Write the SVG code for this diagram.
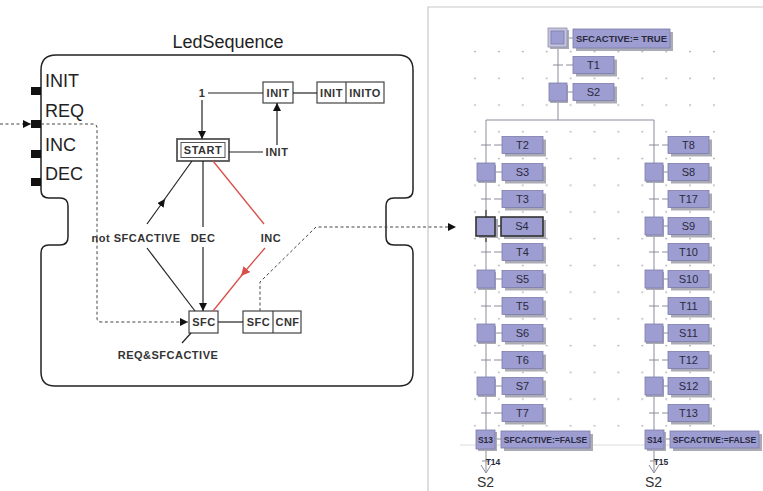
<svg xmlns="http://www.w3.org/2000/svg" width="763" height="491" viewBox="0 0 763 491">
<style>
.lbl{font-family:"Liberation Sans",Arial,sans-serif;font-size:11px;font-weight:bold;fill:#333;letter-spacing:0.5px}
.big{font-family:"Liberation Sans",Arial,sans-serif;font-size:18px;fill:#222}
.ln{stroke:#222;stroke-width:1.2;fill:none}
.red{stroke:#d8504a;stroke-width:1.3;fill:none}
.dash{stroke:#444;stroke-width:1;stroke-dasharray:3 2.5;fill:none}
.box{fill:#fff;stroke:#444;stroke-width:1.2}
.sh{fill:#ababb5}
.sb{fill:#9d9dd1;stroke:#7c7cab;stroke-width:0.8}
.st{font-family:"Liberation Sans",Arial,sans-serif;font-size:11px;fill:#2a2a40;text-anchor:middle}
.act{font-family:"Liberation Sans",Arial,sans-serif;font-weight:bold;fill:#2a2a40;text-anchor:middle}
.gl{stroke:#8c8c9c;stroke-width:1;fill:none}
</style>
<defs>
<pattern id="dots" x="463" y="38.1" width="23.9" height="26.73" patternUnits="userSpaceOnUse"><circle cx="12" cy="13.4" r="0.9" fill="#a8a8a8"/></pattern>
<marker id="ah" viewBox="0 0 10 10" refX="10" refY="5" markerWidth="8" markerHeight="8" markerUnits="userSpaceOnUse" orient="auto"><path d="M0,0 L10,5 L0,10 Z" fill="#111"/></marker>
<marker id="ahr" viewBox="0 0 10 10" refX="10" refY="5" markerWidth="9" markerHeight="9" markerUnits="userSpaceOnUse" orient="auto"><path d="M0,0 L10,5 L0,10 Z" fill="#d8504a"/></marker>
</defs>
<rect width="763" height="491" fill="#fff"/>

<!-- right panel frame and grid -->
<g id="sfc-panel">
<path d="M428,491 L428,7 L763,7" fill="none" stroke="#c8c8c8" stroke-width="1.2"/>
<rect x="468" y="45" width="252" height="388" fill="url(#dots)"/>
<line x1="460" y1="445" x2="714" y2="445" stroke="#dcdcdc" stroke-width="1"/>
</g>

<!-- function block -->
<g id="block">
<text class="big" x="228" y="48" text-anchor="middle">LedSequence</text>
<path d="M41,70 L41,190 Q41,198 49,198 L60,198 Q68,198 68,206 L68,237 Q68,245 60,245 L49,245 Q41,245 41,253 L41,372 Q41,386 55,386 L399,386 Q413,386 413,372 L413,253 Q413,245 405,245 L394,245 Q386,245 386,237 L386,206 Q386,198 394,198 L405,198 Q413,198 413,190 L413,70 Q413,55 398,55 L56,55 Q41,55 41,70 Z" fill="none" stroke="#222" stroke-width="1.5"/>
<rect x="31" y="87" width="10" height="8" fill="#111"/>
<rect x="31" y="120" width="10" height="8" fill="#111"/>
<rect x="31" y="150" width="10" height="8" fill="#111"/>
<rect x="31" y="178" width="10" height="8" fill="#111"/>
<text class="big" x="45" y="87">INIT</text>
<text class="big" x="45" y="117">REQ</text>
<text class="big" x="45" y="151">INC</text>
<text class="big" x="45" y="180">DEC</text>
</g>

<g id="n-one"><text class="lbl" x="202" y="97" text-anchor="middle">1</text></g>
<g id="n-init"><rect class="box" x="263" y="82" width="30" height="21"/><text class="lbl" x="278" y="96.5" text-anchor="middle">INIT</text></g>
<g id="n-initfb"><rect class="box" x="317" y="82" width="67" height="21"/><line x1="346" y1="82" x2="346" y2="103" stroke="#444" stroke-width="1.2"/><text class="lbl" x="331.5" y="96.5" text-anchor="middle">INIT</text><text class="lbl" x="365" y="96.5" text-anchor="middle">INITO</text></g>
<g id="n-start"><rect x="177" y="139" width="52" height="22" fill="#fff" stroke="#555" stroke-width="1.8"/><rect x="181" y="142.5" width="44" height="15" fill="#fff" stroke="#555" stroke-width="1"/><text class="lbl" x="203" y="154" text-anchor="middle">START</text></g>
<g id="n-initlbl"><text class="lbl" x="277" y="156" text-anchor="middle">INIT</text></g>
<g id="n-notsfc"><text class="lbl" x="136" y="242" text-anchor="middle">not SFCACTIVE</text></g>
<g id="n-dec"><text class="lbl" x="203" y="242" text-anchor="middle">DEC</text></g>
<g id="n-inc"><text class="lbl" x="271" y="242" text-anchor="middle">INC</text></g>
<g id="n-sfc"><rect class="box" x="189" y="311" width="29" height="22"/><text class="lbl" x="204" y="326" text-anchor="middle">SFC</text></g>
<g id="n-sfcfb"><rect class="box" x="243" y="311" width="58" height="22"/><line x1="273" y1="311" x2="273" y2="333" stroke="#444" stroke-width="1.2"/><text class="lbl" x="258.5" y="326" text-anchor="middle">SFC</text><text class="lbl" x="287.5" y="326" text-anchor="middle">CNF</text></g>
<g id="n-reqsfc"><text class="lbl" x="168" y="359" text-anchor="middle">REQ&amp;SFCACTIVE</text></g>

<g id="connectors">
<line class="ln" x1="208" y1="93" x2="263" y2="93"/>
<line class="ln" x1="293" y1="93" x2="317" y2="93"/>
<line class="ln" x1="202" y1="100" x2="202" y2="139" marker-end="url(#ah)"/>
<line class="ln" x1="229" y1="152" x2="263" y2="152"/>
<line class="ln" x1="277" y1="145" x2="277" y2="103" marker-end="url(#ah)"/>
<line class="ln" x1="147" y1="224" x2="165" y2="199" marker-end="url(#ah)"/>
<line class="ln" x1="164" y1="200" x2="192" y2="161"/>
<line class="ln" x1="147" y1="248" x2="195" y2="311"/>
<line class="ln" x1="203" y1="161" x2="203" y2="227"/>
<line class="ln" x1="203" y1="247" x2="203" y2="311" marker-end="url(#ah)"/>
<line class="red" x1="213" y1="161" x2="264" y2="224"/>
<line class="red" x1="265" y1="248" x2="241" y2="276" marker-end="url(#ahr)"/>
<line class="red" x1="242" y1="275" x2="213" y2="311"/>
<line class="ln" x1="218" y1="322" x2="243" y2="322"/>
<line class="ln" x1="191" y1="333" x2="182" y2="343"/>
<line class="dash" x1="0" y1="124" x2="31" y2="124" marker-end="url(#ah)"/>
<path class="dash" d="M41,124 L93,124 Q97,124 97,128 L97,318 Q97,322 101,322 L188,322" marker-end="url(#ah)"/>
<path class="dash" d="M260,311 L260,282 L316,227 L456,227" marker-end="url(#ah)"/>
</g>

<!-- SFC chart -->
<g id="sfc-lines">
<line class="gl" x1="558" y1="47" x2="558" y2="120"/>
<line class="gl" x1="486" y1="120" x2="654" y2="120"/>
<line class="gl" x1="486" y1="120" x2="486" y2="473"/>
<line class="gl" x1="654" y1="120" x2="654" y2="473"/>
<line x1="486" y1="210" x2="486" y2="242" stroke="#444" stroke-width="1.3"/>
<polyline class="gl" points="481,465 486,473 491,465"/>
<polyline class="gl" points="649,465 654,473 659,465"/>
<line class="gl" x1="482" y1="461" x2="490" y2="461"/>
<line class="gl" x1="650" y1="461" x2="658" y2="461"/>
<!-- ticks & links top -->
<line class="gl" x1="553" y1="65" x2="563" y2="65"/><line class="gl" x1="566" y1="65" x2="573" y2="65"/>
<line class="gl" x1="567" y1="92" x2="573" y2="92"/>
<line class="gl" x1="567" y1="38" x2="573" y2="38"/>
</g>

<g id="s-init"><rect class="sh" x="550" y="30" width="19" height="19"/><rect x="548" y="28" width="19" height="19" fill="#c4c4dc" stroke="#9090b0" stroke-width="0.8"/><rect class="sb" x="551" y="31" width="13" height="13"/></g>
<g id="a-init"><rect class="sh" x="576" y="32" width="97" height="19"/><rect class="sb" x="573" y="29" width="97" height="19"/><text class="act" x="621.5" y="42" font-size="9.5">SFCACTIVE:= TRUE</text></g>
<g id="t-T1"><rect class="sh" x="576" y="59.5" width="41" height="17"/><rect class="sb" x="573" y="56.5" width="41" height="17"/><text class="st" x="593.5" y="69">T1</text></g>
<g id="s-S2"><rect class="sh" x="550" y="85" width="18" height="18"/><rect class="sb" x="549" y="83" width="18" height="18"/><rect class="sh" x="576" y="86.5" width="41" height="17"/><rect class="sb" x="573" y="83.5" width="41" height="17"/><text class="st" x="593.5" y="96">S2</text></g>

<!-- left branch -->
<g id="t-T2"><line class="gl" x1="481" y1="145" x2="491" y2="145"/><line class="gl" x1="494" y1="145" x2="502" y2="145"/><rect class="sh" x="505" y="139.5" width="41" height="17"/><rect class="sb" x="502" y="136.5" width="41" height="17"/><text class="st" x="522.5" y="149">T2</text></g>
<g id="s-S3"><line class="gl" x1="495" y1="172" x2="502" y2="172"/><rect class="sh" x="478" y="165" width="18" height="18"/><rect class="sb" x="477" y="163" width="18" height="18"/><rect class="sh" x="505" y="166.5" width="41" height="17"/><rect class="sb" x="502" y="163.5" width="41" height="17"/><text class="st" x="522.5" y="176">S3</text></g>
<g id="t-T3"><line class="gl" x1="481" y1="199" x2="491" y2="199"/><line class="gl" x1="494" y1="199" x2="502" y2="199"/><rect class="sh" x="505" y="193.5" width="41" height="17"/><rect class="sb" x="502" y="190.5" width="41" height="17"/><text class="st" x="522.5" y="203">T3</text></g>
<g id="s-S4"><line x1="495" y1="226" x2="501" y2="226" stroke="#444" stroke-width="1.2"/><rect class="sh" x="479" y="219" width="19" height="19"/><rect x="476" y="217" width="19" height="19" fill="#9d9dd1" stroke="#333" stroke-width="1.6"/><rect class="sh" x="504" y="220" width="42" height="19"/><rect x="501" y="217" width="42" height="19" fill="#9d9dd1" stroke="#333" stroke-width="1.6"/><text class="st" x="522" y="230">S4</text></g>
<g id="t-T4"><line class="gl" x1="481" y1="252" x2="491" y2="252"/><line class="gl" x1="494" y1="252" x2="502" y2="252"/><rect class="sh" x="505" y="246.5" width="41" height="17"/><rect class="sb" x="502" y="243.5" width="41" height="17"/><text class="st" x="522.5" y="256">T4</text></g>
<g id="s-S5"><line class="gl" x1="495" y1="279" x2="502" y2="279"/><rect class="sh" x="478" y="272" width="18" height="18"/><rect class="sb" x="477" y="270" width="18" height="18"/><rect class="sh" x="505" y="273.5" width="41" height="17"/><rect class="sb" x="502" y="270.5" width="41" height="17"/><text class="st" x="522.5" y="283">S5</text></g>
<g id="t-T5"><line class="gl" x1="481" y1="306" x2="491" y2="306"/><line class="gl" x1="494" y1="306" x2="502" y2="306"/><rect class="sh" x="505" y="300.5" width="41" height="17"/><rect class="sb" x="502" y="297.5" width="41" height="17"/><text class="st" x="522.5" y="310">T5</text></g>
<g id="s-S6"><line class="gl" x1="495" y1="333" x2="502" y2="333"/><rect class="sh" x="478" y="326" width="18" height="18"/><rect class="sb" x="477" y="324" width="18" height="18"/><rect class="sh" x="505" y="327.5" width="41" height="17"/><rect class="sb" x="502" y="324.5" width="41" height="17"/><text class="st" x="522.5" y="337">S6</text></g>
<g id="t-T6"><line class="gl" x1="481" y1="360" x2="491" y2="360"/><line class="gl" x1="494" y1="360" x2="502" y2="360"/><rect class="sh" x="505" y="354.5" width="41" height="17"/><rect class="sb" x="502" y="351.5" width="41" height="17"/><text class="st" x="522.5" y="364">T6</text></g>
<g id="s-S7"><line class="gl" x1="495" y1="386" x2="502" y2="386"/><rect class="sh" x="478" y="379" width="18" height="18"/><rect class="sb" x="477" y="377" width="18" height="18"/><rect class="sh" x="505" y="380.5" width="41" height="17"/><rect class="sb" x="502" y="377.5" width="41" height="17"/><text class="st" x="522.5" y="390">S7</text></g>
<g id="t-T7"><line class="gl" x1="481" y1="413" x2="491" y2="413"/><line class="gl" x1="494" y1="413" x2="502" y2="413"/><rect class="sh" x="505" y="407.5" width="41" height="17"/><rect class="sb" x="502" y="404.5" width="41" height="17"/><text class="st" x="522.5" y="417">T7</text></g>
<g id="s-S13"><line class="gl" x1="495" y1="439" x2="501" y2="439"/><rect class="sh" x="478" y="432" width="19" height="19"/><rect class="sb" x="476" y="430" width="19" height="19"/><text class="act" x="485.5" y="443" font-size="8.5">S13</text><rect class="sh" x="504" y="434" width="89" height="17"/><rect class="sb" x="501" y="431" width="89" height="17"/><text class="act" x="545.5" y="443" font-size="8.5">SFCACTIVE:=FALSE</text></g>
<g id="t-T14"><text class="act" x="493" y="465" font-size="8.5" text-anchor="start">T14</text></g>
<g id="j-S2a"><text x="477" y="487" font-family="Liberation Sans,Arial,sans-serif" font-size="14" fill="#333">S2</text></g>

<!-- right branch -->
<g id="t-T8"><line class="gl" x1="649" y1="145" x2="659" y2="145"/><line class="gl" x1="662" y1="145" x2="668" y2="145"/><rect class="sh" x="671" y="139.5" width="41" height="17"/><rect class="sb" x="668" y="136.5" width="41" height="17"/><text class="st" x="688.5" y="149">T8</text></g>
<g id="s-S8"><line class="gl" x1="663" y1="172" x2="668" y2="172"/><rect class="sh" x="646" y="165" width="18" height="18"/><rect class="sb" x="645" y="163" width="18" height="18"/><rect class="sh" x="671" y="166.5" width="41" height="17"/><rect class="sb" x="668" y="163.5" width="41" height="17"/><text class="st" x="688.5" y="176">S8</text></g>
<g id="t-T17"><line class="gl" x1="649" y1="199" x2="659" y2="199"/><line class="gl" x1="662" y1="199" x2="668" y2="199"/><rect class="sh" x="671" y="193.5" width="41" height="17"/><rect class="sb" x="668" y="190.5" width="41" height="17"/><text class="st" x="688.5" y="203">T17</text></g>
<g id="s-S9"><line class="gl" x1="663" y1="226" x2="668" y2="226"/><rect class="sh" x="646" y="219" width="18" height="18"/><rect class="sb" x="645" y="217" width="18" height="18"/><rect class="sh" x="671" y="220.5" width="41" height="17"/><rect class="sb" x="668" y="217.5" width="41" height="17"/><text class="st" x="688.5" y="230">S9</text></g>
<g id="t-T10"><line class="gl" x1="649" y1="252" x2="659" y2="252"/><line class="gl" x1="662" y1="252" x2="668" y2="252"/><rect class="sh" x="671" y="246.5" width="41" height="17"/><rect class="sb" x="668" y="243.5" width="41" height="17"/><text class="st" x="688.5" y="256">T10</text></g>
<g id="s-S10"><line class="gl" x1="663" y1="279" x2="668" y2="279"/><rect class="sh" x="646" y="272" width="18" height="18"/><rect class="sb" x="645" y="270" width="18" height="18"/><rect class="sh" x="671" y="273.5" width="41" height="17"/><rect class="sb" x="668" y="270.5" width="41" height="17"/><text class="st" x="688.5" y="283">S10</text></g>
<g id="t-T11"><line class="gl" x1="649" y1="306" x2="659" y2="306"/><line class="gl" x1="662" y1="306" x2="668" y2="306"/><rect class="sh" x="671" y="300.5" width="41" height="17"/><rect class="sb" x="668" y="297.5" width="41" height="17"/><text class="st" x="688.5" y="310">T11</text></g>
<g id="s-S11"><line class="gl" x1="663" y1="333" x2="668" y2="333"/><rect class="sh" x="646" y="326" width="18" height="18"/><rect class="sb" x="645" y="324" width="18" height="18"/><rect class="sh" x="671" y="327.5" width="41" height="17"/><rect class="sb" x="668" y="324.5" width="41" height="17"/><text class="st" x="688.5" y="337">S11</text></g>
<g id="t-T12"><line class="gl" x1="649" y1="360" x2="659" y2="360"/><line class="gl" x1="662" y1="360" x2="668" y2="360"/><rect class="sh" x="671" y="354.5" width="41" height="17"/><rect class="sb" x="668" y="351.5" width="41" height="17"/><text class="st" x="688.5" y="364">T12</text></g>
<g id="s-S12"><line class="gl" x1="663" y1="386" x2="668" y2="386"/><rect class="sh" x="646" y="379" width="18" height="18"/><rect class="sb" x="645" y="377" width="18" height="18"/><rect class="sh" x="671" y="380.5" width="41" height="17"/><rect class="sb" x="668" y="377.5" width="41" height="17"/><text class="st" x="688.5" y="390">S12</text></g>
<g id="t-T13"><line class="gl" x1="649" y1="413" x2="659" y2="413"/><line class="gl" x1="662" y1="413" x2="668" y2="413"/><rect class="sh" x="671" y="407.5" width="41" height="17"/><rect class="sb" x="668" y="404.5" width="41" height="17"/><text class="st" x="688.5" y="417">T13</text></g>
<g id="s-S14"><line class="gl" x1="663" y1="439" x2="670" y2="439"/><rect class="sh" x="647" y="432" width="19" height="19"/><rect class="sb" x="645" y="430" width="19" height="19"/><text class="act" x="654.5" y="443" font-size="8.5">S14</text><rect class="sh" x="673" y="434" width="89" height="17"/><rect class="sb" x="670" y="431" width="89" height="17"/><text class="act" x="714.5" y="443" font-size="8.5">SFCACTIVE:=FALSE</text></g>
<g id="t-T15"><text class="act" x="661" y="465" font-size="8.5" text-anchor="start">T15</text></g>
<g id="j-S2b"><text x="645" y="487" font-family="Liberation Sans,Arial,sans-serif" font-size="14" fill="#333">S2</text></g>
</svg>
